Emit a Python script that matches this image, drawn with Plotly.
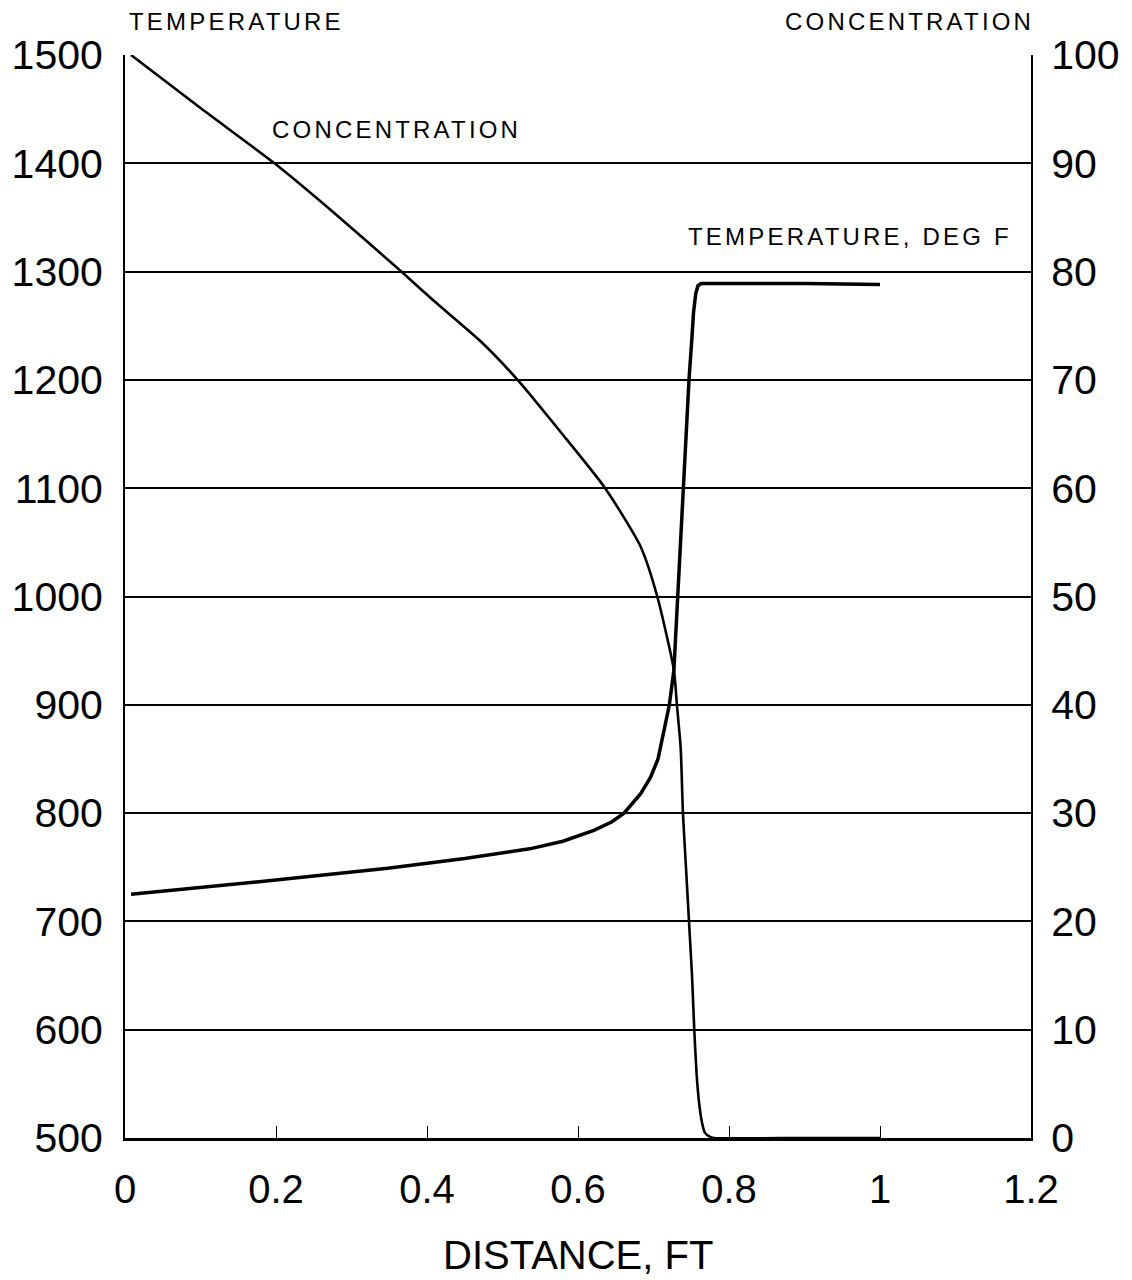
import plotly.graph_objects as go

# Distance (ft) and temperature (deg F) — left axis
temp_x = [0.008, 0.1, 0.184, 0.25, 0.348, 0.45, 0.536, 0.58, 0.621, 0.645, 0.661,
          0.683, 0.696, 0.706, 0.713, 0.718, 0.721, 0.727, 0.732, 0.739, 0.742,
          0.747, 0.751, 0.753, 0.756, 0.759, 0.763, 0.8, 0.9, 1.0]
temp_y = [725, 731, 737, 742, 749, 758, 767, 774, 784, 792, 800,
          818, 833, 850, 874, 890, 900, 932, 1000, 1100, 1144,
          1200, 1240, 1262, 1280, 1287, 1289, 1289, 1289, 1288]

# Distance (ft) and concentration — right axis
conc_x = [0.008, 0.1, 0.198, 0.279, 0.366, 0.409, 0.472, 0.52, 0.578, 0.636,
          0.683, 0.705, 0.727, 0.731, 0.736, 0.739, 0.743, 0.747, 0.751, 0.754,
          0.757, 0.760, 0.764, 0.768, 0.775, 0.78, 0.9, 1.0]
conc_y = [100, 95.1, 90, 85.3, 80, 77.3, 73.5, 70, 65.1, 60,
          54.6, 50, 43.2, 40, 36, 30, 25, 20, 15, 10,
          6, 3.5, 1.5, 0.5, 0.1, 0, 0, 0]

x_ticks = [0, 0.2, 0.4, 0.6, 0.8, 1.0, 1.2]
x_tick_text = ["0", "0.2", "0.4", "0.6", "0.8", "1", "1.2"]
temp_ticks = list(range(500, 1501, 100))
conc_ticks = list(range(0, 101, 10))

FONT = "Liberation Sans"

fig = go.Figure()
fig.add_trace(go.Scatter(x=temp_x, y=temp_y, mode="lines", yaxis="y",
                         line=dict(color="black", width=3.5), showlegend=False))
fig.add_trace(go.Scatter(x=conc_x, y=conc_y, mode="lines", yaxis="y2",
                         line=dict(color="black", width=2.6, shape="spline", smoothing=0.6),
                         showlegend=False))

def spaced(t, ls=3.2):
    return f"<span style='letter-spacing:{ls}px'>{t}</span>"

ann_font = dict(family=FONT, size=24, color="black")
annotations = [
    dict(text=spaced("TEMPERATURE"), xref="paper", yref="paper", x=0.002, y=1.0305,
         xanchor="left", yanchor="middle", showarrow=False, font=ann_font),
    dict(text=spaced("CONCENTRATION"), xref="paper", yref="paper", x=1.006, y=1.0305,
         xanchor="right", yanchor="middle", showarrow=False, font=ann_font),
    dict(text=spaced("CONCENTRATION"), xref="x", yref="y", x=0.192, y=1431,
         xanchor="left", yanchor="middle", showarrow=False, font=ann_font),
    dict(text=spaced("TEMPERATURE, DEG F"), xref="x", yref="y", x=0.743, y=1332,
         xanchor="left", yanchor="middle", showarrow=False, font=ann_font),
    dict(text="DISTANCE, FT", xref="paper", yref="paper", x=0.5, y=-0.108,
         xanchor="center", yanchor="middle", showarrow=False,
         font=dict(family=FONT, size=40, color="black")),
]

fig.update_layout(
    width=1132, height=1280,
    margin=dict(l=121, r=99, t=55, b=142),
    paper_bgcolor="white", plot_bgcolor="white",
    font=dict(family=FONT, color="black"),
    xaxis=dict(range=[0, 1.2], tickvals=x_ticks, ticktext=x_tick_text,
               ticks="inside", ticklen=12, tickwidth=1.2, tickcolor="black",
               showgrid=False, zeroline=False, showline=True, linecolor="black",
               linewidth=2.5, mirror=False, tickfont=dict(family=FONT, size=40),
               ticklabelstandoff=14),
    yaxis=dict(range=[500, 1500], tickvals=temp_ticks, showgrid=True,
               gridcolor="black", gridwidth=1.8, zeroline=False, showline=True,
               linecolor="black", linewidth=2, ticks="",
               tickfont=dict(family=FONT, size=41), ticklabelstandoff=12),
    yaxis2=dict(range=[0, 100], tickvals=conc_ticks, overlaying="y", side="right",
                showgrid=False, zeroline=False, showline=True, linecolor="black",
                linewidth=2, ticks="", tickfont=dict(family=FONT, size=41),
                ticklabelstandoff=10),
    annotations=annotations,
)

fig.write_html("out.html")
